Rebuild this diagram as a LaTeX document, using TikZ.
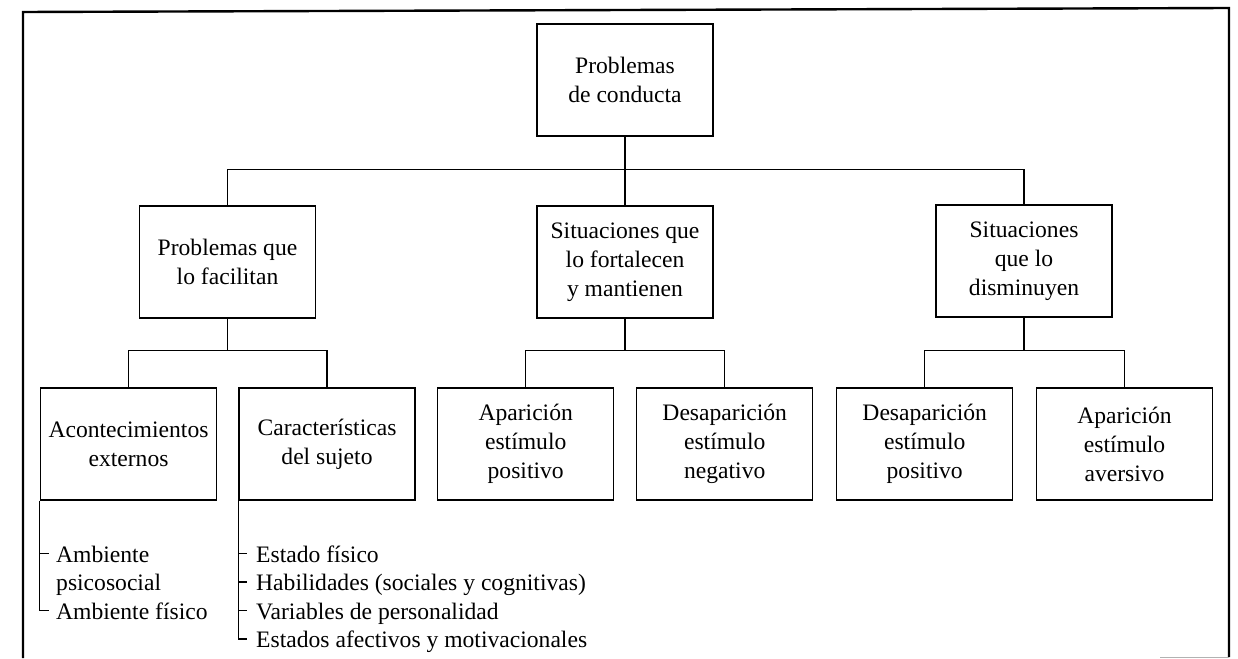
\documentclass[tikz,border=0pt]{standalone}
\usepackage{fontspec}
\setmainfont{Liberation Serif}
\usetikzlibrary{calc}
\begin{document}
\begin{tikzpicture}[x=1pt,y=-1pt,
  txt/.style={font=\fontsize{23.6}{29}\selectfont},
  box/.style={txt, draw, line width=1.4pt, minimum width=176pt,
              minimum height=112pt, align=center, inner sep=0pt},
  link/.style={line width=1.2pt},
  item/.style={txt, anchor=base west, inner sep=0pt},
  frame/.style={line width=2.4pt}]
\fill[white] (0,0) rectangle (1238,658);
\useasboundingbox (0,0) rectangle (1238,658);

% outer frame
\draw[frame] (23,658) -- (23,12) -- (1229,8) -- (1229,657);
\draw[gray!60, line width=1pt] (1160,657) -- (1229,657);

% top level
\node[box] (root) at (625,80) {Problemas\\de conducta};

% second level
\node[box] (fac)  at (227.5,262) {Problemas que\\lo facilitan};
\node[box] (fort) at (625,262) {Situaciones que\\lo fortalecen\\y mantienen};
\node[box] (dism) at (1024,261) {Situaciones\\que lo\\disminuyen};

% third level
\node[box] (acon)  at (128.5,444) {Acontecimientos\\externos};
\node[box] (car)   at (327,444)   {Características\\del sujeto};
\node[box] (apos)  at (525.7,444) {Aparición\\estímulo\\positivo};
\node[box] (dneg)  at (724.7,444) {Desaparición\\estímulo\\negativo};
\node[box] (dpos)  at (924.7,444) {Desaparición\\estímulo\\positivo};
\node[box] (aav)   at (1124.5,444) {Aparición\\estímulo\\aversivo};

% tree connectors
\draw[link] (root.south) -- ++(0,33) coordinate (b1);
\draw[link] (fac.north) |- (b1) -| (dism.north);
\draw[link] (b1) -- (fort.north);

\draw[link] (fac.south) -- ++(0,32) coordinate (b2);
\draw[link] (acon.north) |- (b2) -| (car.north);

\draw[link] (fort.south) -- ++(0,32) coordinate (b3);
\draw[link] (apos.north) |- (b3) -| (dneg.north);

\draw[link] (dism.south) -- ++(0,33) coordinate (b4);
\draw[link] (dpos.north) |- (b4) -| (aav.north);

% list under "Acontecimientos externos"
\node[item] (a1) at (56,562)   {Ambiente};
\node[item] (a2) at (56,590.5) {psicosocial};
\node[item] (a3) at (56,619)   {Ambiente físico};
\coordinate (ta1) at ($(a1.base west)+(-7,-8.5)$);
\coordinate (ta3) at ($(a3.base west)+(-7,-8.5)$);
\draw[link] (acon.south west) |- (ta3);
\draw[link] (acon.south west |- ta1) -- (ta1);

% list under "Características del sujeto"
\node[item] (c1) at (256,562)   {Estado físico};
\node[item] (c2) at (256,590.5) {Habilidades (sociales y cognitivas)};
\node[item] (c3) at (256,619)   {Variables de personalidad};
\node[item] (c4) at (256,647.5) {Estados afectivos y motivacionales};
\coordinate (tc1) at ($(c1.base west)+(-9,-8.5)$);
\coordinate (tc2) at ($(c2.base west)+(-9,-8.5)$);
\coordinate (tc3) at ($(c3.base west)+(-9,-8.5)$);
\coordinate (tc4) at ($(c4.base west)+(-9,-8.5)$);
\draw[link] (car.south west) |- (tc4);
\draw[link] (car.south west |- tc1) -- (tc1);
\draw[link] (car.south west |- tc2) -- (tc2);
\draw[link] (car.south west |- tc3) -- (tc3);
\end{tikzpicture}
\end{document}
